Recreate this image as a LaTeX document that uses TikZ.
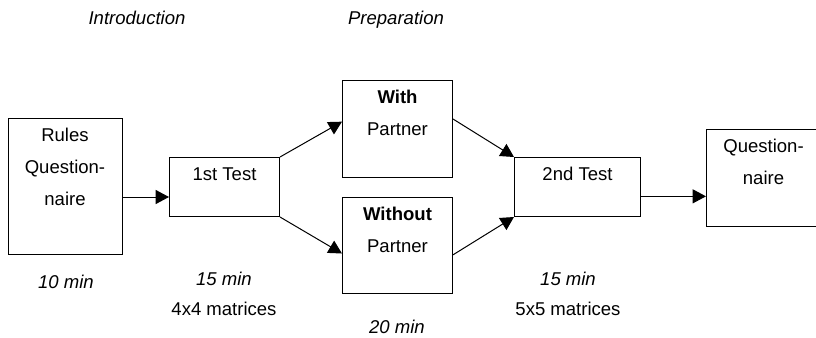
\documentclass[tikz,border=0pt]{standalone}
\usepackage{fontspec}
\setmainfont{Liberation Sans}
\usetikzlibrary{positioning, arrows.meta}

\begin{document}
\begin{tikzpicture}[x=0.75pt, y=-0.75pt,
    every node/.style={font=\fontsize{13.9}{24}\selectfont},
    stage/.style n args={3}{draw, line width=0.75pt, inner sep=0pt, anchor=north west, align=center,
      minimum width=#1, text height=#2, text depth=#3},
    note/.style={font=\fontsize{13.9}{24}\selectfont\itshape, anchor=base},
    plain/.style={anchor=base},
    flow/.style={line width=0.75pt, -{Triangle[length=10pt, width=10.5pt]}}]
  \useasboundingbox (0,0) rectangle (816,337);
  \clip (0,0) rectangle (816,337);

  \node[note] (intro) at (137,24.5) {Introduction};
  \node[note] (prep) at (396,24.5) {Preparation};

  \node[stage={85.5pt}{65pt}{36.75pt}] (rules) at (7.5,118) {Rules\\Question-\\naire};
  \node[stage={82.5pt}{17pt}{27.25pt}] (test1) at (169,157) {1st Test};
  \node[stage={82.5pt}{41pt}{31.75pt}] (with) at (342,80) {\textbf{With}\\Partner};
  \node[stage={82.5pt}{41pt}{31pt}] (without) at (342,197) {\textbf{Without}\\Partner};
  \node[stage={94.5pt}{17pt}{27.25pt}] (test2) at (514,157) {2nd Test};
  \node[stage={85.5pt}{41pt}{31.75pt}] (quest) at (706,129) {Question-\\naire};

  \node[note] (t0) at (66,288) {10 min};
  \node[note] (t1) at (224,285) {15 min};
  \node[plain] (m1) at (224,315) {4x4 matrices};
  \node[note] (t2) at (397,333) {20 min};
  \node[note] (t3) at (568,285) {15 min};
  \node[plain] (m2) at (568,315) {5x5 matrices};

  \coordinate (r) at ([yshift=-8pt]rules.east);
  \coordinate (s) at ([yshift=-7pt]test2.east);
  \draw[flow] (r) -- (r -| test1.west);
  \draw[flow] (test1.north east) -- ([yshift=5.5pt]with.west);
  \draw[flow] (test1.south east) -- ([yshift=-6pt]without.west);
  \draw[flow] ([yshift=7.5pt]with.east) -- (test2.north west);
  \draw[flow] ([yshift=-7pt]without.east) -- (test2.south west);
  \draw[flow] (s) -- (s -| quest.west);
\end{tikzpicture}
\end{document}
